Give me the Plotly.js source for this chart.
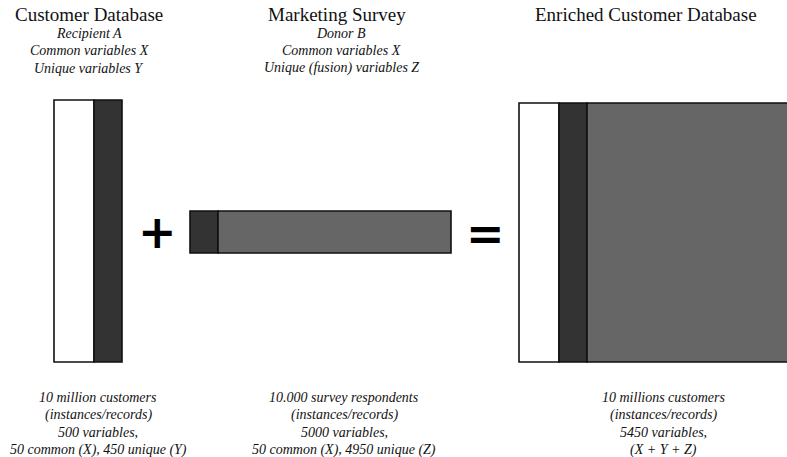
<!DOCTYPE html>
<html><head><meta charset="utf-8">
<script src="https://cdn.plot.ly/plotly-3.0.1.min.js"></script>
<style>html,body{margin:0;padding:0;background:#fff}#chart{width:787px;height:457px}</style>
</head><body><div id="chart"></div>
<script>
// Diagram content
const titles = ["Customer Database", "Marketing Survey", "Enriched Customer Database"];
const subtitles = [
  ["Recipient A", "Common variables X", "Unique variables Y"],
  ["Donor B", "Common variables X", "Unique (fusion) variables Z"],
  []
];
const footers = [
  ["10 million customers", "(instances/records)", "500 variables,", "50 common (X), 450 unique (Y)"],
  ["10.000 survey respondents", "(instances/records)", "5000 variables,", "50 common (X), 4950 unique (Z)"],
  ["10 millions customers", "(instances/records)", "5450 variables,", "(X + Y + Z)"]
];
const operators = ["+", "="];

// layout geometry (diagram units = pixels)
const colors = {id: "#ffffff", common: "#333333", unique: "#666666"};
const blocks = [
  {segs: [["id", 54, 94], ["common", 94, 122]], y0: 100, y1: 362},
  {segs: [["common", 190, 218], ["unique", 218, 451]], y0: 211, y1: 253},
  {segs: [["id", 519, 559], ["common", 559, 587], ["unique", 587, 795]], y0: 103, y1: 362}
];
const titleX = [89, 337, 646];
const subX = [89, 341, 646];
const footX = [98, 344, 663];
const opPos = [[157, 232], [485, 234]];

const shapes = [];
blocks.forEach(b => {
  b.segs.forEach(s => {
    shapes.push({type: "rect", xref: "x", yref: "y", x0: s[1], x1: s[2], y0: b.y0, y1: b.y1,
      fillcolor: colors[s[0]], line: {color: "#111", width: 1.6}});
  });
});

const ann = [];
const serif = "'Liberation Serif', 'Times New Roman', serif";
titles.forEach((t, i) => {
  ann.push({x: titleX[i], y: 14, text: t, showarrow: false, xref: "x", yref: "y",
    font: {family: serif, size: 19, color: "#111"}});
  subtitles[i].forEach((s, j) => {
    ann.push({x: subX[i], y: 33 + j * 17.5, text: "<i>" + s + "</i>", showarrow: false, xref: "x", yref: "y",
      font: {family: serif, size: 14, color: "#111"}});
  });
  footers[i].forEach((s, j) => {
    ann.push({x: footX[i], y: 397 + j * 17.5, text: "<i>" + s + "</i>", showarrow: false, xref: "x", yref: "y",
      font: {family: serif, size: 14, color: "#111"}});
  });
});
operators.forEach((o, i) => {
  ann.push({x: opPos[i][0], y: opPos[i][1], text: "<b>" + o + "</b>", showarrow: false, xref: "x", yref: "y",
    font: {family: "'DejaVu Sans', Arial, sans-serif", size: 46, color: "#000"}});
});

const layout = {
  width: 787, height: 457,
  margin: {l: 0, r: 0, t: 0, b: 0},
  paper_bgcolor: "#fff", plot_bgcolor: "#fff",
  xaxis: {range: [0, 787], visible: false, fixedrange: true},
  yaxis: {range: [457, 0], visible: false, fixedrange: true},
  shapes: shapes, annotations: ann, showlegend: false
};
Plotly.newPlot("chart", [{x: [], y: [], type: "scatter"}], layout, {staticPlot: true, displayModeBar: false});
</script></body></html>
